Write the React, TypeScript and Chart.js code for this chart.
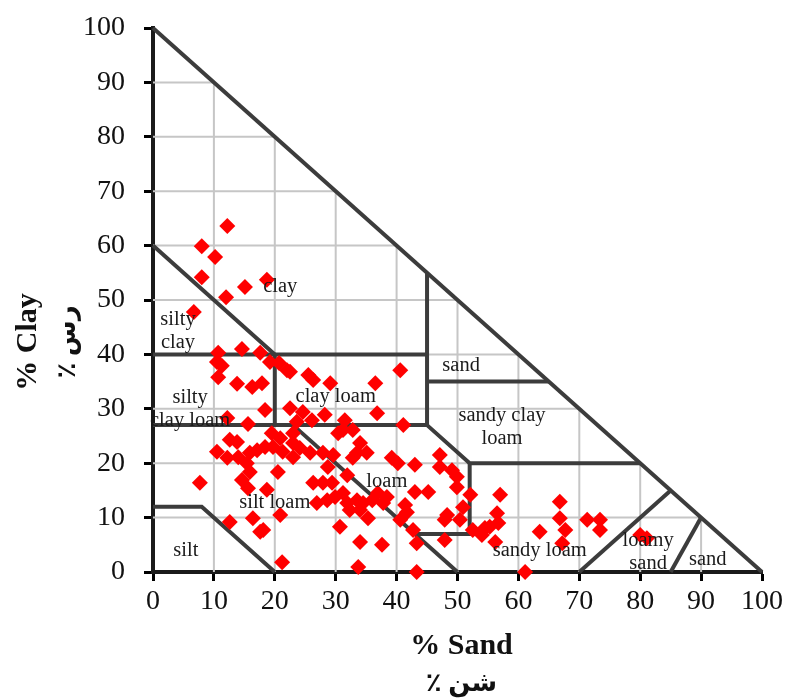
import React, { useEffect, useRef } from "react";
import { Chart, registerables } from "chart.js";

Chart.register(...registerables);

// % sand (x) and % clay (y) of each soil sample
const sandPct = [
  12.2, 8.0, 10.2, 8.0, 15.1, 18.7, 12.0, 6.7,
  10.7, 14.6, 17.6, 19.2, 20.7, 22.0, 10.5, 11.3, 10.7, 13.8, 16.3, 17.9, 25.5, 26.3, 29.1, 36.5, 40.6, 22.5,
  18.4, 22.5, 24.6, 28.2, 26.1, 23.6, 31.5, 36.8, 41.1, 12.2, 15.6, 19.5,
  31.2, 32.8, 30.4, 20.9, 23.0, 23.0, 12.6, 13.8, 18.4, 19.7, 21.3, 24.1, 23.0, 25.8, 27.9, 29.6, 34.0, 33.5, 35.1, 32.8,
  10.5, 12.2, 14.0, 15.9, 17.1, 15.4, 15.9, 20.5,
  39.2, 40.2, 43.0, 47.1, 47.1, 49.1, 49.9, 49.9, 52.1, 43.0, 45.2, 41.4, 41.7, 48.3, 47.9, 50.4, 50.9,
  28.7, 31.9, 26.3, 27.9, 29.4, 7.7, 14.6, 15.6, 18.7,
  26.9, 28.6, 29.9, 31.2, 31.9, 33.5, 34.5, 36.0, 36.9, 37.8, 38.4, 32.3, 34.0, 35.3, 40.6, 42.7, 43.3, 30.7, 34.0, 37.6,
  18.1, 20.9, 12.6, 16.4, 17.6,
  21.2, 33.7, 43.3, 61.1,
  57.0, 56.5, 56.7, 54.5, 54.0, 56.2, 52.5, 55.3, 47.9, 66.8, 66.8, 67.7, 63.5, 67.2, 71.3, 73.4, 73.4, 80.0, 81.1,
];
const clayPct = [
  63.6, 59.9, 57.9, 54.2, 52.4, 53.7, 50.5, 47.8,
  40.3, 41.0, 40.3, 38.6, 38.4, 37.1, 38.6, 37.9, 35.8, 34.6, 34.0, 34.7, 36.2, 35.3, 34.7, 34.7, 37.1, 36.8,
  29.8, 30.1, 29.4, 28.9, 27.9, 27.6, 27.9, 29.2, 27.0, 28.3, 27.2, 25.5,
  26.1, 26.1, 25.5, 24.6, 25.5, 23.7, 24.3, 23.9, 23.0, 23.0, 22.1, 22.8, 21.1, 21.9, 21.9, 21.5, 23.7, 21.9, 21.9, 21.0,
  22.1, 21.0, 21.1, 21.9, 22.4, 20.0, 18.4, 18.4,
  21.0, 20.0, 19.7, 21.5, 19.3, 18.7, 17.5, 15.6, 14.2, 14.7, 14.7, 12.3, 11.0, 10.5, 9.6, 9.6, 11.9,
  19.3, 17.8, 16.4, 16.4, 16.4, 16.4, 16.9, 15.4, 15.1,
  12.7, 13.2, 13.8, 14.5, 12.7, 13.2, 12.7, 13.2, 14.5, 12.7, 13.8, 11.4, 11.4, 9.9, 9.6, 7.7, 5.3, 8.3, 5.5, 5.0,
  7.7, 10.5, 9.2, 9.9, 7.4,
  1.8, 0.9, 0.0, 0.0,
  14.2, 10.8, 9.0, 8.1, 6.8, 5.5, 7.7, 8.3, 5.9, 12.9, 9.9, 7.7, 7.4, 5.3, 9.6, 9.6, 7.7, 6.8, 6.2,
];

// texture-triangle boundaries, as [sand, clay] vertices
const boundaryLines: number[][][] = [
  [[0, 100], [100, 0]],
  [[0, 60], [20, 40]],
  [[0, 40], [45, 40]],
  [[45, 55], [45, 27]],
  [[45, 35], [65, 35]],
  [[20, 40], [20, 27]],
  [[0, 27], [45, 27]],
  [[45, 27], [52, 20], [80, 20]],
  [[52, 20], [52, 7], [43, 7]],
  [[23, 27], [50, 0]],
  [[0, 12], [8, 12], [20, 0]],
  [[70, 0], [85, 15]],
  [[85, 0], [90, 10]],
];

// texture class names and their anchor (sand, clay)
const classNames = [
  "clay", "silty\nclay", "silty\nclay loam", "clay loam", "sand", "sandy clay\nloam",
  "loam", "silt loam", "silt", "sandy loam", "loamy\nsand", "sand",
];
const classSand = [20.9, 4.1, 6.1, 30.0, 50.6, 57.3, 38.4, 20.0, 5.4, 63.5, 81.3, 91.1];
const classClay = [52.4, 44.3, 30.0, 32.2, 37.9, 26.7, 16.7, 12.7, 3.9, 3.9, 3.7, 2.2];

const axisTicks = [0, 10, 20, 30, 40, 50, 60, 70, 80, 90, 100];
const xTitle = "% Sand";
const xTitleFa = "٪ شن";
const yTitle = "% Clay";
const yTitleFa = "٪ رس";

const SERIF = "'Liberation Serif', 'Times New Roman', 'DejaVu Sans', serif";
const LINE_COLOR = "#3c3c3c";

const triGridPlugin = {
  id: "triGrid",
  beforeDatasetsDraw(chart: any) {
    const { ctx } = chart;
    const x = chart.scales.x;
    const y = chart.scales.y;
    ctx.save();
    ctx.beginPath();
    ctx.moveTo(x.getPixelForValue(0), y.getPixelForValue(0));
    ctx.lineTo(x.getPixelForValue(100), y.getPixelForValue(0));
    ctx.lineTo(x.getPixelForValue(0), y.getPixelForValue(100));
    ctx.closePath();
    ctx.clip();
    ctx.strokeStyle = "#c6c6c6";
    ctx.lineWidth = 2;
    for (const v of axisTicks) {
      if (v === 0 || v === 100) continue;
      const px = x.getPixelForValue(v);
      ctx.beginPath();
      ctx.moveTo(px, y.getPixelForValue(0));
      ctx.lineTo(px, y.getPixelForValue(100));
      ctx.stroke();
      const py = y.getPixelForValue(v);
      ctx.beginPath();
      ctx.moveTo(x.getPixelForValue(0), py);
      ctx.lineTo(x.getPixelForValue(100), py);
      ctx.stroke();
    }
    ctx.restore();
  },
  afterDatasetsDraw(chart: any) {
    const { ctx } = chart;
    const x = chart.scales.x;
    const y = chart.scales.y;
    ctx.save();
    ctx.font = `20.5px ${SERIF}`;
    ctx.fillStyle = "#1a1a1a";
    ctx.textAlign = "center";
    ctx.textBaseline = "middle";
    classNames.forEach((name, i) => {
      const lines = name.split("\n");
      const cx = x.getPixelForValue(classSand[i]);
      const cy = y.getPixelForValue(classClay[i]);
      const lh = 23;
      const start = cy - ((lines.length - 1) * lh) / 2;
      lines.forEach((ln, j) => ctx.fillText(ln, cx, start + j * lh));
    });
    ctx.restore();
  },
  afterDraw(chart: any) {
    const { ctx, chartArea } = chart;
    const midX = (chartArea.left + chartArea.right) / 2 + 4;
    ctx.save();
    ctx.fillStyle = "#111";
    ctx.textAlign = "center";
    ctx.textBaseline = "middle";
    ctx.font = `bold 30px ${SERIF}`;
    ctx.fillText(xTitle, midX, chartArea.bottom + 74);
    ctx.font = `bold 26px ${SERIF}`;
    ctx.fillText(xTitleFa, midX, chartArea.bottom + 112);
    const midY = 342;
    ctx.save();
    ctx.translate(28, midY);
    ctx.rotate(-Math.PI / 2);
    ctx.font = `bold 30px ${SERIF}`;
    ctx.fillText(yTitle, 0, 0);
    ctx.restore();
    ctx.save();
    ctx.translate(68, midY);
    ctx.rotate(-Math.PI / 2);
    ctx.font = `bold 26px ${SERIF}`;
    ctx.fillText(yTitleFa, 0, 0);
    ctx.restore();
    ctx.restore();
  },
};

export default function App() {
  const ref = useRef<HTMLCanvasElement>(null);

  useEffect(() => {
    if (!ref.current) return;
    const points = sandPct.map((s, i) => ({ x: s, y: clayPct[i] }));
    const lineSets = boundaryLines.map((poly) => ({
      data: poly.map((p) => ({ x: p[0], y: p[1] })),
      showLine: true,
      borderColor: LINE_COLOR,
      borderWidth: 4,
      pointRadius: 0,
      borderJoinStyle: "miter" as const,
      clip: false as any,
    }));
    const chart = new Chart(ref.current, {
      type: "scatter",
      data: {
        datasets: [
          {
            data: points,
            pointStyle: "rectRot",
            pointRadius: 8,
            backgroundColor: "#ff0000",
            borderColor: "#ff0000",
            borderWidth: 0,
            clip: false as any,
          },
          ...lineSets,
        ] as any,
      },
      options: {
        animation: false,
        responsive: false,
        events: [],
        layout: { padding: { top: 28, right: 23, left: 0, bottom: 0 } },
        plugins: { legend: { display: false }, tooltip: { enabled: false } },
        scales: {
          x: {
            type: "linear",
            min: 0,
            max: 100,
            afterFit: (s: any) => {
              s.height = 126;
              s.paddingLeft = 0;
              s.paddingRight = 0;
            },
            ticks: {
              stepSize: 10,
              color: "#111",
              font: { family: SERIF, size: 28 },
              padding: 4,
              maxRotation: 0,
            },
            grid: {
              drawOnChartArea: false,
              drawTicks: true,
              tickLength: 9,
              tickWidth: 3,
              tickColor: "#000",
            },
            border: { display: true, color: "#1a1a1a", width: 4 },
          },
          y: {
            type: "linear",
            min: 0,
            max: 100,
            afterFit: (s: any) => {
              s.width = 153;
              s.paddingTop = 0;
              s.paddingBottom = 0;
            },
            ticks: {
              stepSize: 10,
              color: "#111",
              font: { family: SERIF, size: 28 },
              padding: 19,
            },
            grid: {
              drawOnChartArea: false,
              drawTicks: true,
              tickLength: 9,
              tickWidth: 3,
              tickColor: "#000",
            },
            border: { display: true, color: "#1a1a1a", width: 4 },
          },
        },
      },
      plugins: [triGridPlugin],
    });
    return () => chart.destroy();
  }, []);

  return (
    <div style={{ position: "fixed", left: 0, top: 0, width: 785, height: 698, background: "#fff" }}>
      <canvas ref={ref} width={785} height={698} style={{ display: "block" }} />
    </div>
  );
}
